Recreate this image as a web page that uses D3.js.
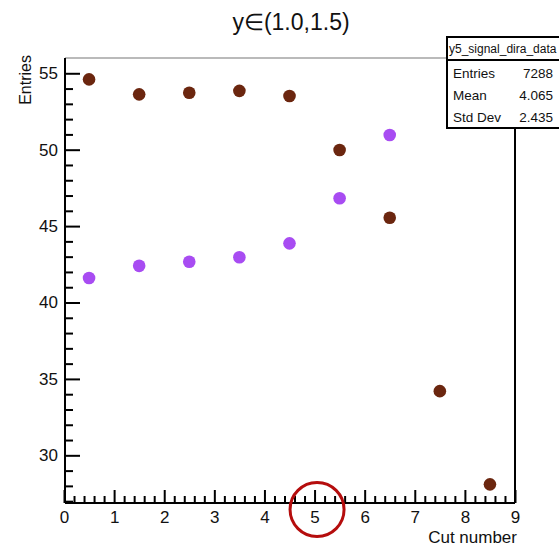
<!DOCTYPE html>
<html><head><meta charset="utf-8">
<script src="https://cdn.jsdelivr.net/npm/d3@7"></script>
<style>
html,body{margin:0;padding:0;background:#fff;}
svg{display:block;font-family:"Liberation Sans",Arial,sans-serif;}
</style></head>
<body>
<svg id="c" width="559" height="546"></svg>
<script>
// ---- data ----
const title = "y\u2208(1.0,1.5)";
const xLabel = "Cut number";
const yLabel = "Entries";
const cutsBrown = [0.5, 1.5, 2.5, 3.5, 4.5, 5.5, 6.5, 7.5, 8.5];
const brownValues = [54.6, 53.62, 53.73, 53.85, 53.51, 49.98, 45.55, 34.2, 28.1];
const cutsPurple = [0.5, 1.5, 2.5, 3.5, 4.5, 5.5, 6.5];
const purpleValues = [41.6, 42.4, 42.67, 42.96, 43.87, 46.82, 50.96];
const xTicks = [0, 1, 2, 3, 4, 5, 6, 7, 8, 9];
const yTicks = [30, 35, 40, 45, 50, 55];
const statsName = "y5_signal_dira_data";
const statsLabels = ["Entries", "Mean", "Std Dev"];
const statsValues = ["7288", "4.065", "2.435"];
const circledTick = 5;

// ---- layout ----
const L = 65, R = 515, T = 58, B = 503;
const svg = d3.select("#c");
const x = d3.scaleLinear().domain([0, 9]).range([64, 515]);
const y = d3.scaleLinear().domain([26.88, 56.0]).range([B, T]);

// frame
svg.append("line").attr("x1", L).attr("x2", R).attr("y1", T).attr("y2", T)
  .attr("stroke", "#777").attr("stroke-width", 1.2);
svg.append("line").attr("x1", R).attr("x2", R).attr("y1", T).attr("y2", B)
  .attr("stroke", "#000").attr("stroke-width", 2);

// minor ticks
const xMinor = d3.range(0, 9.001, 0.2).filter(v => Math.abs(v - Math.round(v)) > 0.01);
const yMinor = d3.range(27, 56, 1).filter(v => v % 5 !== 0);

const gx = svg.append("g").attr("transform", `translate(0,${B})`);
gx.call(d3.axisBottom(x).tickValues(xMinor).tickSize(-7).tickFormat(""));
gx.call(g => g.select(".domain").remove());
const gx2 = svg.append("g").attr("transform", `translate(0,${B})`);
gx2.call(d3.axisBottom(x).tickValues(xTicks).tickSize(-13).tickPadding(8).tickFormat(d3.format("d")));
gx2.select(".domain").attr("d", `M${L},0H${R}`).attr("stroke-width", 2);
gx.selectAll("line").attr("stroke-width", 2);
gx2.selectAll("line").attr("stroke-width", 2);
gx2.selectAll("text").attr("font-size", 17).attr("fill", "#111")
  .attr("font-family", "'Liberation Sans',Arial,sans-serif");

const gy = svg.append("g").attr("transform", `translate(${L},0)`);
gy.call(d3.axisLeft(y).tickValues(yMinor).tickSize(-8).tickFormat(""));
gy.call(g => g.select(".domain").remove());
const gy2 = svg.append("g").attr("transform", `translate(${L},0)`);
gy2.call(d3.axisLeft(y).tickValues(yTicks).tickSize(-15).tickPadding(7).tickFormat(d3.format("d")));
gy2.select(".domain").attr("d", `M0,${T}V${B}`).attr("stroke-width", 2);
gy.selectAll("line").attr("stroke-width", 2);
gy2.selectAll("line").attr("stroke-width", 2);
gy2.selectAll("text").attr("font-size", 17).attr("fill", "#111")
  .attr("font-family", "'Liberation Sans',Arial,sans-serif");

// points
svg.append("g").selectAll("circle").data(cutsBrown.map((c, i) => [c, brownValues[i]]))
  .join("circle").attr("cx", d => x(d[0])).attr("cy", d => y(d[1])).attr("r", 6.3)
  .attr("fill", "#6b260f");
svg.append("g").selectAll("circle").data(cutsPurple.map((c, i) => [c, purpleValues[i]]))
  .join("circle").attr("cx", d => x(d[0])).attr("cy", d => y(d[1])).attr("r", 6.3)
  .attr("fill", "#a84cf2");

// title & axis titles
svg.append("text").attr("x", 291).attr("y", 30).attr("text-anchor", "middle")
  .attr("font-size", 23).attr("fill", "#111").text(title);
svg.append("text").attr("x", 517).attr("y", 543).attr("text-anchor", "end")
  .attr("font-size", 17).attr("fill", "#111").text(xLabel);
svg.append("text").attr("transform", "translate(31,55) rotate(-90)").attr("text-anchor", "end")
  .attr("font-size", 16).attr("fill", "#111").text(yLabel);

// stats box
const sb = svg.append("g");
sb.append("rect").attr("x", 447).attr("y", 37).attr("width", 130).attr("height", 91)
  .attr("fill", "#fff").attr("stroke", "#000").attr("stroke-width", 2);
sb.append("line").attr("x1", 447).attr("x2", 559).attr("y1", 60).attr("y2", 60)
  .attr("stroke", "#000").attr("stroke-width", 2);
sb.append("text").attr("x", 449).attr("y", 53).attr("font-size", 12).attr("fill", "#111").text(statsName);
statsLabels.forEach((s, i) => {
  sb.append("text").attr("x", 453).attr("y", 78 + i * 22).attr("font-size", 13.5).attr("fill", "#111").text(s);
  sb.append("text").attr("x", 553).attr("y", 78 + i * 22).attr("text-anchor", "end")
    .attr("font-size", 13.5).attr("fill", "#111").text(statsValues[i]);
});

// red annotation circle around the tick label
svg.append("circle").attr("cx", x(circledTick) + 2.5).attr("cy", 509.5).attr("r", 27)
  .attr("fill", "none").attr("stroke", "#b50d0d").attr("stroke-width", 3);
</script>
</body></html>
